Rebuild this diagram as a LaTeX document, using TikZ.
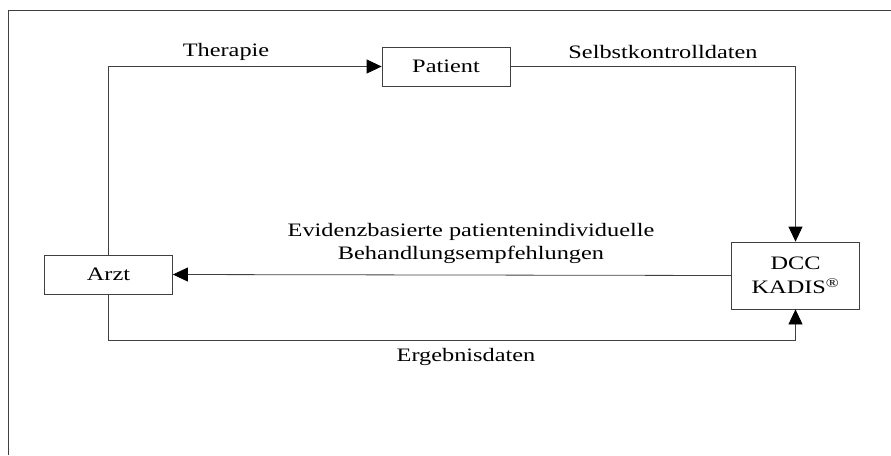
\documentclass[tikz,border=0pt]{standalone}
\usepackage{fontspec}
\setmainfont[FakeStretch=1.28]{Liberation Serif}
\usetikzlibrary{arrows.meta}
\definecolor{color_line}{HTML}{404040}
\def\boxwidth{128pt}
\def\labelsize{\fontsize{19}{23}\selectfont}
\tikzset{
    box/.style={draw=color_line, line width=0.8pt, minimum width=\boxwidth, minimum height=39pt, align=center, inner sep=2pt, font=\labelsize},
    flow/.style={draw=color_line, line width=0.8pt, -{Triangle[length=15pt,width=14pt,color=black]}},
    flowlabel/.style={font=\labelsize, align=center, inner sep=0pt}
}

\begin{document}
\begin{tikzpicture}[x=1pt,y=-1pt]
        \useasboundingbox (0,0) rectangle (891,455);
        % frame
        \draw[color_line, line width=0.8pt] (8,455) -- (8,10) -- (891,10);
        % the three parties
        \node[box] (patient) at (446,66.5) {Patient};
        \node[box] (arzt) at (108.5,274.5) {Arzt};
        \node[box, minimum height=67pt] (dcc) at (795.5,275.5) {DCC\\[1pt]KADIS\textsuperscript{\textregistered}};
        % connectors
        \draw[flow] (arzt.north) |- (patient.west);
        \draw[flow] (patient.east) -| (dcc.north);
        \draw[flow] (dcc.west) -- (arzt.east);
        \draw[flow] (arzt.south) -- ++(0,46) coordinate (bottom) -| (dcc.south);
        % labels
        \node[flowlabel] (therapie) at (226,52) {Therapie};
        \node[flowlabel] (selbst) at (663,52) {Selbstkontrolldaten};
        \node[flowlabel] (evidenz) at (471,243) {Evidenzbasierte patientenindividuelle\\Behandlungsempfehlungen};
        \node[flowlabel] (ergebnis) at (466,357) {Ergebnisdaten};
    \end{tikzpicture}
\end{document}
